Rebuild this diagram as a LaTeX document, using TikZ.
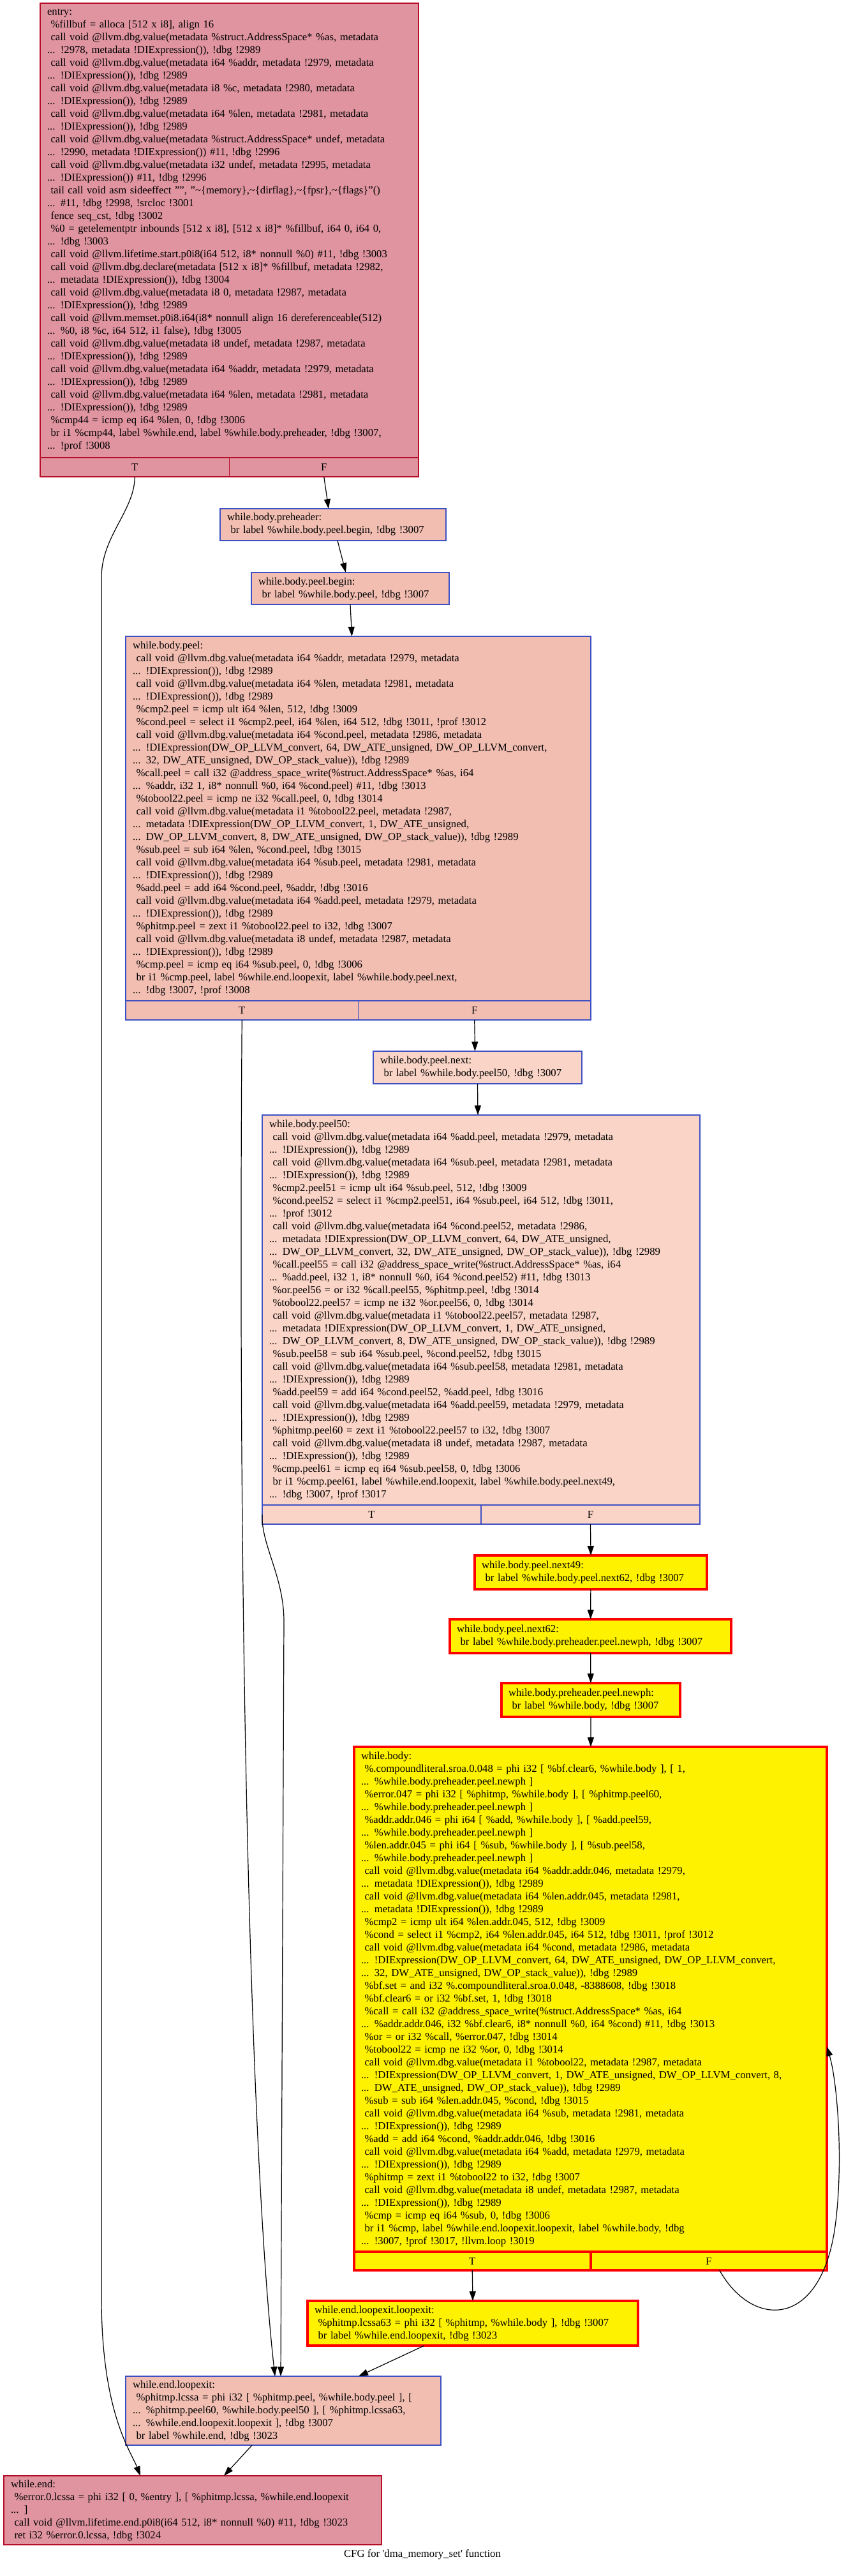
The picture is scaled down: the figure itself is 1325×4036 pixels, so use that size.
\documentclass[tikz,border=0pt]{standalone}
\usepackage{fontspec}
\setmainfont{Liberation Serif}
\usepackage{tikz}
\usetikzlibrary{arrows.meta}
\definecolor{hotred}{HTML}{B70D28}
\definecolor{hotfill}{RGB}{223,148,160}
\definecolor{coolblue}{HTML}{3D50C3}
\definecolor{warmfill}{RGB}{242,190,178}
\definecolor{mildfill}{RGB}{250,212,198}
\tikzstyle{codebox} = [anchor=north west, align=left, inner xsep=11pt,
  inner ysep=2pt, outer sep=0pt, draw]
\tikzstyle{portcell} = [anchor=north west, minimum height=30pt, inner sep=0pt,
  outer sep=0pt, draw]
\tikzstyle{hot} = [draw=hotred, fill=hotfill, line width=1.5pt]
\tikzstyle{warm} = [draw=coolblue, fill=warmfill, line width=1.5pt]
\tikzstyle{mild} = [draw=coolblue, fill=mildfill, line width=1.5pt]
\tikzstyle{hotloop} = [draw=red, fill=yellow, line width=4pt]
\tikzstyle{arrow} = [-{Triangle[length=15pt,width=10pt]}, line width=1.2pt]

\begin{document}
\begin{tikzpicture}[x=1pt, y=-1pt, font=\fontsize{16.7}{20}\selectfont]
  \path [use as bounding box, fill=white] (0,0) rectangle (1325,4036);

  \node (entry) [codebox, hot, text width=571pt, minimum height=712pt] at (63,5)
    {entry:\\
     \ \%fillbuf = alloca [512 x i8], align 16\\
     \ call void @llvm.dbg.value(metadata \%struct.AddressSpace* \%as, metadata\\
     ... !2978, metadata !DIExpression()), !dbg !2989\\
     \ call void @llvm.dbg.value(metadata i64 \%addr, metadata !2979, metadata\\
     ... !DIExpression()), !dbg !2989\\
     \ call void @llvm.dbg.value(metadata i8 \%c, metadata !2980, metadata\\
     ... !DIExpression()), !dbg !2989\\
     \ call void @llvm.dbg.value(metadata i64 \%len, metadata !2981, metadata\\
     ... !DIExpression()), !dbg !2989\\
     \ call void @llvm.dbg.value(metadata \%struct.AddressSpace* undef, metadata\\
     ... !2990, metadata !DIExpression()) \#11, !dbg !2996\\
     \ call void @llvm.dbg.value(metadata i32 undef, metadata !2995, metadata\\
     ... !DIExpression()) \#11, !dbg !2996\\
     \ tail call void asm sideeffect "", "\textasciitilde\{memory\},\textasciitilde\{dirflag\},\textasciitilde\{fpsr\},\textasciitilde\{flags\}"()\\
     ... \#11, !dbg !2998, !srcloc !3001\\
     \ fence seq\_cst, !dbg !3002\\
     \ \%0 = getelementptr inbounds [512 x i8], [512 x i8]* \%fillbuf, i64 0, i64 0,\\
     ... !dbg !3003\\
     \ call void @llvm.lifetime.start.p0i8(i64 512, i8* nonnull \%0) \#11, !dbg !3003\\
     \ call void @llvm.dbg.declare(metadata [512 x i8]* \%fillbuf, metadata !2982,\\
     ... metadata !DIExpression()), !dbg !3004\\
     \ call void @llvm.dbg.value(metadata i8 0, metadata !2987, metadata\\
     ... !DIExpression()), !dbg !2989\\
     \ call void @llvm.memset.p0i8.i64(i8* nonnull align 16 dereferenceable(512)\\
     ... \%0, i8 \%c, i64 512, i1 false), !dbg !3005\\
     \ call void @llvm.dbg.value(metadata i8 undef, metadata !2987, metadata\\
     ... !DIExpression()), !dbg !2989\\
     \ call void @llvm.dbg.value(metadata i64 \%addr, metadata !2979, metadata\\
     ... !DIExpression()), !dbg !2989\\
     \ call void @llvm.dbg.value(metadata i64 \%len, metadata !2981, metadata\\
     ... !DIExpression()), !dbg !2989\\
     \ \%cmp44 = icmp eq i64 \%len, 0, !dbg !3006\\
     \ br i1 \%cmp44, label \%while.end, label \%while.body.preheader, !dbg !3007,\\
     ... !prof !3008};
  \node (entryT) [portcell, hot, minimum width=296.5pt] at (entry.south west) {T};
  \node (entryF) [portcell, hot, minimum width=296.5pt] at (entryT.north east) {F};

  \node (pre) [codebox, warm, text width=332pt, minimum height=50pt] at (345,797)
    {while.body.preheader:\\
     \ br label \%while.body.peel.begin, !dbg !3007};
  \node (begin) [codebox, warm, text width=288pt, minimum height=50pt] at (394,897)
    {while.body.peel.begin:\\
     \ br label \%while.body.peel, !dbg !3007};

  \node (peel) [codebox, warm, text width=707pt, minimum height=571pt] at (197,997)
    {while.body.peel:\\
     \ call void @llvm.dbg.value(metadata i64 \%addr, metadata !2979, metadata\\
     ... !DIExpression()), !dbg !2989\\
     \ call void @llvm.dbg.value(metadata i64 \%len, metadata !2981, metadata\\
     ... !DIExpression()), !dbg !2989\\
     \ \%cmp2.peel = icmp ult i64 \%len, 512, !dbg !3009\\
     \ \%cond.peel = select i1 \%cmp2.peel, i64 \%len, i64 512, !dbg !3011, !prof !3012\\
     \ call void @llvm.dbg.value(metadata i64 \%cond.peel, metadata !2986, metadata\\
     ... !DIExpression(DW\_OP\_LLVM\_convert, 64, DW\_ATE\_unsigned, DW\_OP\_LLVM\_convert,\\
     ... 32, DW\_ATE\_unsigned, DW\_OP\_stack\_value)), !dbg !2989\\
     \ \%call.peel = call i32 @address\_space\_write(\%struct.AddressSpace* \%as, i64\\
     ... \%addr, i32 1, i8* nonnull \%0, i64 \%cond.peel) \#11, !dbg !3013\\
     \ \%tobool22.peel = icmp ne i32 \%call.peel, 0, !dbg !3014\\
     \ call void @llvm.dbg.value(metadata i1 \%tobool22.peel, metadata !2987,\\
     ... metadata !DIExpression(DW\_OP\_LLVM\_convert, 1, DW\_ATE\_unsigned,\\
     ... DW\_OP\_LLVM\_convert, 8, DW\_ATE\_unsigned, DW\_OP\_stack\_value)), !dbg !2989\\
     \ \%sub.peel = sub i64 \%len, \%cond.peel, !dbg !3015\\
     \ call void @llvm.dbg.value(metadata i64 \%sub.peel, metadata !2981, metadata\\
     ... !DIExpression()), !dbg !2989\\
     \ \%add.peel = add i64 \%cond.peel, \%addr, !dbg !3016\\
     \ call void @llvm.dbg.value(metadata i64 \%add.peel, metadata !2979, metadata\\
     ... !DIExpression()), !dbg !2989\\
     \ \%phitmp.peel = zext i1 \%tobool22.peel to i32, !dbg !3007\\
     \ call void @llvm.dbg.value(metadata i8 undef, metadata !2987, metadata\\
     ... !DIExpression()), !dbg !2989\\
     \ \%cmp.peel = icmp eq i64 \%sub.peel, 0, !dbg !3006\\
     \ br i1 \%cmp.peel, label \%while.end.loopexit, label \%while.body.peel.next,\\
     ... !dbg !3007, !prof !3008};
  \node (peelT) [portcell, warm, minimum width=364.5pt] at (peel.south west) {T};
  \node (peelF) [portcell, warm, minimum width=364.5pt] at (peelT.north east) {F};

  \node (next) [codebox, mild, text width=305pt, minimum height=51pt] at (585,1647)
    {while.body.peel.next:\\
     \ br label \%while.body.peel50, !dbg !3007};

  \node (p50) [codebox, mild, text width=664pt, minimum height=611pt] at (411,1747)
    {while.body.peel50:\\
     \ call void @llvm.dbg.value(metadata i64 \%add.peel, metadata !2979, metadata\\
     ... !DIExpression()), !dbg !2989\\
     \ call void @llvm.dbg.value(metadata i64 \%sub.peel, metadata !2981, metadata\\
     ... !DIExpression()), !dbg !2989\\
     \ \%cmp2.peel51 = icmp ult i64 \%sub.peel, 512, !dbg !3009\\
     \ \%cond.peel52 = select i1 \%cmp2.peel51, i64 \%sub.peel, i64 512, !dbg !3011,\\
     ... !prof !3012\\
     \ call void @llvm.dbg.value(metadata i64 \%cond.peel52, metadata !2986,\\
     ... metadata !DIExpression(DW\_OP\_LLVM\_convert, 64, DW\_ATE\_unsigned,\\
     ... DW\_OP\_LLVM\_convert, 32, DW\_ATE\_unsigned, DW\_OP\_stack\_value)), !dbg !2989\\
     \ \%call.peel55 = call i32 @address\_space\_write(\%struct.AddressSpace* \%as, i64\\
     ... \%add.peel, i32 1, i8* nonnull \%0, i64 \%cond.peel52) \#11, !dbg !3013\\
     \ \%or.peel56 = or i32 \%call.peel55, \%phitmp.peel, !dbg !3014\\
     \ \%tobool22.peel57 = icmp ne i32 \%or.peel56, 0, !dbg !3014\\
     \ call void @llvm.dbg.value(metadata i1 \%tobool22.peel57, metadata !2987,\\
     ... metadata !DIExpression(DW\_OP\_LLVM\_convert, 1, DW\_ATE\_unsigned,\\
     ... DW\_OP\_LLVM\_convert, 8, DW\_ATE\_unsigned, DW\_OP\_stack\_value)), !dbg !2989\\
     \ \%sub.peel58 = sub i64 \%sub.peel, \%cond.peel52, !dbg !3015\\
     \ call void @llvm.dbg.value(metadata i64 \%sub.peel58, metadata !2981, metadata\\
     ... !DIExpression()), !dbg !2989\\
     \ \%add.peel59 = add i64 \%cond.peel52, \%add.peel, !dbg !3016\\
     \ call void @llvm.dbg.value(metadata i64 \%add.peel59, metadata !2979, metadata\\
     ... !DIExpression()), !dbg !2989\\
     \ \%phitmp.peel60 = zext i1 \%tobool22.peel57 to i32, !dbg !3007\\
     \ call void @llvm.dbg.value(metadata i8 undef, metadata !2987, metadata\\
     ... !DIExpression()), !dbg !2989\\
     \ \%cmp.peel61 = icmp eq i64 \%sub.peel58, 0, !dbg !3006\\
     \ br i1 \%cmp.peel61, label \%while.end.loopexit, label \%while.body.peel.next49,\\
     ... !dbg !3007, !prof !3017};
  \node (p50T) [portcell, mild, minimum width=343pt] at (p50.south west) {T};
  \node (p50F) [portcell, mild, minimum width=343pt] at (p50T.north east) {F};

  \node (n49) [codebox, hotloop, text width=342pt, minimum height=53pt] at (744,2437)
    {while.body.peel.next49:\\
     \ br label \%while.body.peel.next62, !dbg !3007};
  \node (n62) [codebox, hotloop, text width=419pt, minimum height=53pt] at (705,2537)
    {while.body.peel.next62:\\
     \ br label \%while.body.preheader.peel.newph, !dbg !3007};
  \node (newph) [codebox, hotloop, text width=258pt, minimum height=53pt] at (786,2637)
    {while.body.preheader.peel.newph:\\
     \ br label \%while.body, !dbg !3007};

  \node (body) [codebox, hotloop, text width=719pt, minimum height=791pt] at (555,2737)
    {while.body:\\
     \ \%.compoundliteral.sroa.0.048 = phi i32 [ \%bf.clear6, \%while.body ], [ 1,\\
     ... \%while.body.preheader.peel.newph ]\\
     \ \%error.047 = phi i32 [ \%phitmp, \%while.body ], [ \%phitmp.peel60,\\
     ... \%while.body.preheader.peel.newph ]\\
     \ \%addr.addr.046 = phi i64 [ \%add, \%while.body ], [ \%add.peel59,\\
     ... \%while.body.preheader.peel.newph ]\\
     \ \%len.addr.045 = phi i64 [ \%sub, \%while.body ], [ \%sub.peel58,\\
     ... \%while.body.preheader.peel.newph ]\\
     \ call void @llvm.dbg.value(metadata i64 \%addr.addr.046, metadata !2979,\\
     ... metadata !DIExpression()), !dbg !2989\\
     \ call void @llvm.dbg.value(metadata i64 \%len.addr.045, metadata !2981,\\
     ... metadata !DIExpression()), !dbg !2989\\
     \ \%cmp2 = icmp ult i64 \%len.addr.045, 512, !dbg !3009\\
     \ \%cond = select i1 \%cmp2, i64 \%len.addr.045, i64 512, !dbg !3011, !prof !3012\\
     \ call void @llvm.dbg.value(metadata i64 \%cond, metadata !2986, metadata\\
     ... !DIExpression(DW\_OP\_LLVM\_convert, 64, DW\_ATE\_unsigned, DW\_OP\_LLVM\_convert,\\
     ... 32, DW\_ATE\_unsigned, DW\_OP\_stack\_value)), !dbg !2989\\
     \ \%bf.set = and i32 \%.compoundliteral.sroa.0.048, -8388608, !dbg !3018\\
     \ \%bf.clear6 = or i32 \%bf.set, 1, !dbg !3018\\
     \ \%call = call i32 @address\_space\_write(\%struct.AddressSpace* \%as, i64\\
     ... \%addr.addr.046, i32 \%bf.clear6, i8* nonnull \%0, i64 \%cond) \#11, !dbg !3013\\
     \ \%or = or i32 \%call, \%error.047, !dbg !3014\\
     \ \%tobool22 = icmp ne i32 \%or, 0, !dbg !3014\\
     \ call void @llvm.dbg.value(metadata i1 \%tobool22, metadata !2987, metadata\\
     ... !DIExpression(DW\_OP\_LLVM\_convert, 1, DW\_ATE\_unsigned, DW\_OP\_LLVM\_convert, 8,\\
     ... DW\_ATE\_unsigned, DW\_OP\_stack\_value)), !dbg !2989\\
     \ \%sub = sub i64 \%len.addr.045, \%cond, !dbg !3015\\
     \ call void @llvm.dbg.value(metadata i64 \%sub, metadata !2981, metadata\\
     ... !DIExpression()), !dbg !2989\\
     \ \%add = add i64 \%cond, \%addr.addr.046, !dbg !3016\\
     \ call void @llvm.dbg.value(metadata i64 \%add, metadata !2979, metadata\\
     ... !DIExpression()), !dbg !2989\\
     \ \%phitmp = zext i1 \%tobool22 to i32, !dbg !3007\\
     \ call void @llvm.dbg.value(metadata i8 undef, metadata !2987, metadata\\
     ... !DIExpression()), !dbg !2989\\
     \ \%cmp = icmp eq i64 \%sub, 0, !dbg !3006\\
     \ br i1 \%cmp, label \%while.end.loopexit.loopexit, label \%while.body, !dbg\\
     ... !3007, !prof !3017, !llvm.loop !3019};
  \node (bodyT) [portcell, hotloop, minimum width=370.5pt, minimum height=29pt]
    at (body.south west) {T};
  \node (bodyF) [portcell, hotloop, minimum width=370.5pt, minimum height=29pt]
    at (bodyT.north east) {F};

  \node (wll) [codebox, hotloop, text width=496pt, minimum height=70pt] at (482,3605)
    {while.end.loopexit.loopexit:\\
     \ \%phitmp.lcssa63 = phi i32 [ \%phitmp, \%while.body ], !dbg !3007\\
     \ br label \%while.end.loopexit, !dbg !3023};

  \node (wel) [codebox, warm, text width=472pt, minimum height=108pt] at (197,3723)
    {while.end.loopexit:\\
     \ \%phitmp.lcssa = phi i32 [ \%phitmp.peel, \%while.body.peel ], [\\
     ... \%phitmp.peel60, \%while.body.peel50 ], [ \%phitmp.lcssa63,\\
     ... \%while.end.loopexit.loopexit ], !dbg !3007\\
     \ br label \%while.end, !dbg !3023};

  \node (wend) [codebox, hot, text width=570pt, minimum height=108pt] at (6,3879)
    {while.end:\\
     \ \%error.0.lcssa = phi i32 [ 0, \%entry ], [ \%phitmp.lcssa, \%while.end.loopexit\\
     ... ]\\
     \ call void @llvm.lifetime.end.p0i8(i64 512, i8* nonnull \%0) \#11, !dbg !3023\\
     \ ret i32 \%error.0.lcssa, !dbg !3024};

  \node (caption) at (662,4002)
    {CFG for \textquotesingle dma\_memory\_set\textquotesingle{} function};

  \draw [arrow] (entryT.south) .. controls (211,800) and (159,840) .. (159,905)
    -- (159,3600) .. controls (159,3780) and (205,3840) .. ([xshift=-82pt]wend.north);
  \draw [arrow] (entryF.south) -- ([xshift=-7pt]pre.north);
  \draw [arrow] ([xshift=7pt]pre.south) -- ([xshift=-7pt]begin.north);
  \draw [arrow] (begin.south) -- ([xshift=-10pt]peel.north);
  \draw [arrow] (peelT.south) .. controls (372,2600) and (395,3400)
    .. ([xshift=-13pt]wel.north);
  \draw [arrow] (peelF.south) -- ([xshift=-4pt]next.north);
  \draw [arrow] (next.south) -- ([xshift=-5pt]p50.north);
  \draw [arrow] (p50T.west) .. controls (409,2420) and (445,2470) .. (445,2540)
    -- ([xshift=-4pt]wel.north);
  \draw [arrow] (p50F.south) -- (n49.north);
  \draw [arrow] (n49) -- (n62);
  \draw [arrow] (n62) -- (newph);
  \draw [arrow] (newph) -- (body);
  \draw [arrow] (bodyT.south) -- (wll.north);
  \draw [arrow] ([xshift=17pt]bodyF.south) .. controls (1180,3650) and (1290,3650)
    .. (1310,3480) .. controls (1322,3380) and (1312,3260) .. ([yshift=-74pt]body.east);
  \draw [arrow] ([xshift=-76pt]wll.south) -- ([xshift=118pt]wel.north);
  \draw [arrow] ([xshift=-49pt]wel.south) -- ([xshift=49pt]wend.north);
\end{tikzpicture}
\end{document}
